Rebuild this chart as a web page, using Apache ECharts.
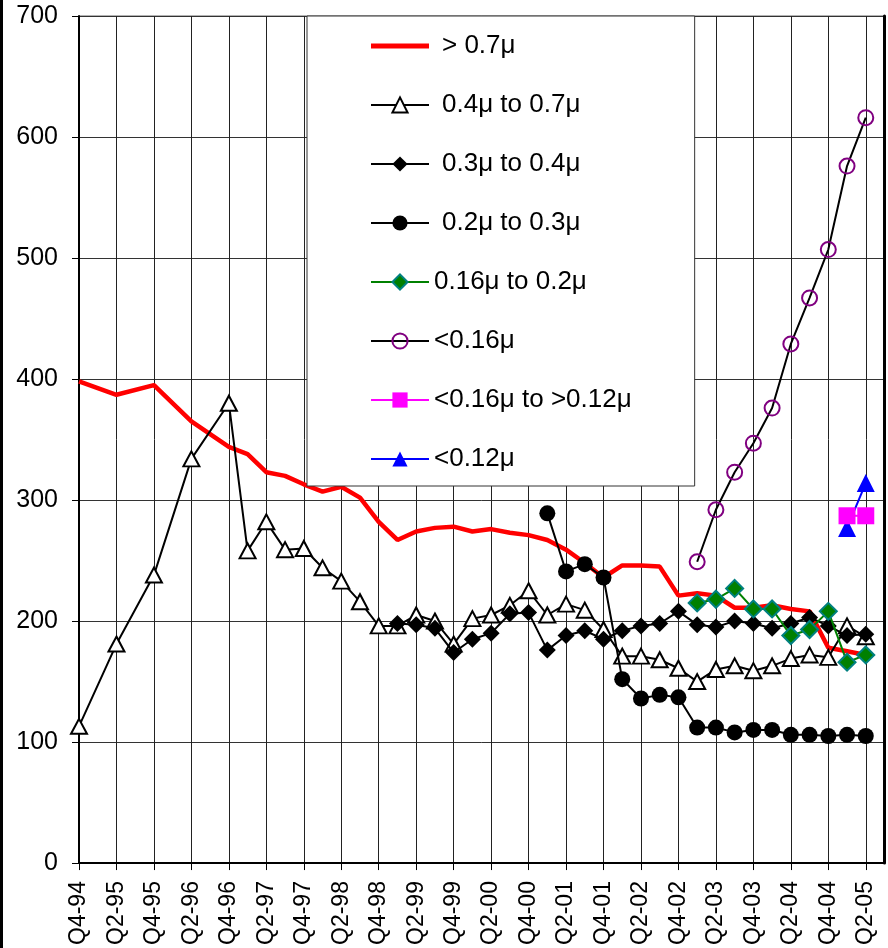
<!DOCTYPE html>
<html>
<head>
<meta charset="utf-8">
<script src="https://cdn.jsdelivr.net/npm/echarts@6/dist/echarts.min.js"></script>
<style>html,body{margin:0;padding:0;background:#fff}#c{width:888px;height:948px}</style>
</head>
<body>
<div id="c"></div>
<script>
var categories = ['Q4-94','Q1-95','Q2-95','Q3-95','Q4-95','Q1-96','Q2-96','Q3-96','Q4-96',
  'Q1-97','Q2-97','Q3-97','Q4-97','Q1-98','Q2-98','Q3-98','Q4-98',
  'Q1-99','Q2-99','Q3-99','Q4-99','Q1-00','Q2-00','Q3-00','Q4-00',
  'Q1-01','Q2-01','Q3-01','Q4-01','Q1-02','Q2-02','Q3-02','Q4-02',
  'Q1-03','Q2-03','Q3-03','Q4-03','Q1-04','Q2-04','Q3-04','Q4-04',
  'Q1-05','Q2-05','Q3-05'];
var seriesNames = ['> 0.7\u03bc','0.4\u03bc to 0.7\u03bc','0.3\u03bc to 0.4\u03bc','0.2\u03bc to 0.3\u03bc',
  '0.16\u03bc to 0.2\u03bc','<0.16\u03bc','<0.16\u03bc to >0.12\u03bc','<0.12\u03bc'];
var yTicks = [0,100,200,300,400,500,600,700];
var _ = null;
var over07 = [398,_,387,_,395,_,365,_,344,338,323,320,313,307,311,302,282,267,274,277,278,274,276,273,271,267,259,248,236,246,246,245,221,223,221,211,211,213,210,208,178,175,172,_];
var r04to07 = [113,_,181,_,238,_,334,_,380,258,282,259,260,244,233,216,196,196,205,200,181,202,205,213,225,205,214,209,193,171,171,168,161,150,160,163,159,163,169,172,170,196,187,_];
var r03to04 = [_,_,_,_,_,_,_,_,_,_,_,_,_,_,_,_,_,198,197,194,174,185,190,206,207,176,188,192,185,192,196,198,208,197,195,200,198,194,198,203,196,188,189,_];
var r02to03 = [_,_,_,_,_,_,_,_,_,_,_,_,_,_,_,_,_,_,_,_,_,_,_,_,_,289,241,247,236,152,136,139,137,112,112,108,110,110,106,106,105,106,105,_];
var r016to02 = [_,_,_,_,_,_,_,_,_,_,_,_,_,_,_,_,_,_,_,_,_,_,_,_,_,_,_,_,_,_,_,_,_,215,218,227,210,210,188,193,208,166,172,_];
var under016 = [_,_,_,_,_,_,_,_,_,_,_,_,_,_,_,_,_,_,_,_,_,_,_,_,_,_,_,_,_,_,_,_,_,249,292,323,347,376,429,467,507,576,616,_];
var r016to012 = [_,_,_,_,_,_,_,_,_,_,_,_,_,_,_,_,_,_,_,_,_,_,_,_,_,_,_,_,_,_,_,_,_,_,_,_,_,_,_,_,_,287,287,_];
var under012 = [_,_,_,_,_,_,_,_,_,_,_,_,_,_,_,_,_,_,_,_,_,_,_,_,_,_,_,_,_,_,_,_,_,_,_,_,_,_,_,_,_,277,314,_];

var FONT = "'Liberation Sans', Arial, sans-serif";
var chart = echarts.init(document.getElementById('c'), null, {renderer:'canvas'});
function ser(name, data, o) {
  return Object.assign({type:'line', name:name, data:data, connectNulls:true, animation:false}, o);
}
chart.setOption({
  animation:false,
  backgroundColor:'#fff',
  textStyle:{fontFamily:FONT},
  graphic:[{type:'rect', left:0, top:0, shape:{width:3, height:948}, style:{fill:'#000'}, silent:true}],
  grid:{left:79, top:16, right:3.5, bottom:84.5, show:true, borderColor:'#666', borderWidth:1, backgroundColor:'transparent'},
  legend:{
    orient:'vertical', left:307, top:16,
    padding:[17,63,14,63],
    itemWidth:58, itemHeight:19, itemGap:33,
    backgroundColor:'#fff', borderColor:'#333', borderWidth:1,
    textStyle:{fontSize:26, lineHeight:26, color:'#000', fontFamily:FONT},
    data:[
      {name:seriesNames[0], icon:'path://M0,0H58V5H0Z', textStyle:{padding:[0,0,0,8]}},
      {name:seriesNames[1], textStyle:{padding:[0,0,0,8]}},
      {name:seriesNames[2], textStyle:{padding:[0,0,0,8]}},
      {name:seriesNames[3], textStyle:{padding:[0,0,0,8]}},
      {name:seriesNames[4]},
      {name:seriesNames[5]},
      {name:seriesNames[6]},
      {name:seriesNames[7]}
    ]
  },
  xAxis:{
    type:'category', data:categories, boundaryGap:false,
    axisLine:{lineStyle:{color:'#000', width:2}},
    axisTick:{show:true, interval:1, length:7, lineStyle:{color:'#000', width:1}},
    axisLabel:{interval:1, rotate:90, margin:18, fontSize:23, color:'#000', fontFamily:FONT},
    splitLine:{show:true, interval:1, lineStyle:{color:'#222', width:1}}
  },
  yAxis:[{
    type:'value', min:yTicks[0], max:yTicks[yTicks.length-1], interval:100,
    axisLine:{show:true, lineStyle:{color:'#000', width:2}},
    axisTick:{show:true, length:7, lineStyle:{color:'#000', width:1}},
    axisLabel:{margin:21, fontSize:25, color:'#000', fontFamily:FONT},
    splitLine:{show:true, lineStyle:{color:'#333', width:1}}
  },{
    type:'value', position:'right', min:0, max:700,
    axisLine:{show:true, lineStyle:{color:'#000', width:3}},
    axisTick:{show:false}, axisLabel:{show:false}, splitLine:{show:false}
  }],
  series:[
    ser(seriesNames[0], over07, {symbol:'none', itemStyle:{color:'#ff0000'}, lineStyle:{color:'#ff0000', width:4.5}, z:2}),
    ser(seriesNames[1], r04to07, {symbol:'triangle', symbolSize:[16,15], showAllSymbol:true,
      itemStyle:{color:'#fff', borderColor:'#000', borderWidth:2}, lineStyle:{color:'#000', width:2}, z:3}),
    ser(seriesNames[2], r03to04, {symbol:'diamond', symbolSize:17, showAllSymbol:true,
      itemStyle:{color:'#000'}, lineStyle:{color:'#000', width:2}, z:4}),
    ser(seriesNames[3], r02to03, {symbol:'circle', symbolSize:16, showAllSymbol:true,
      itemStyle:{color:'#000'}, lineStyle:{color:'#000', width:2}, z:5}),
    ser(seriesNames[4], r016to02, {symbol:'diamond', symbolSize:17, showAllSymbol:true,
      itemStyle:{color:'#008000', borderColor:'#008080', borderWidth:2}, lineStyle:{color:'#008000', width:2}, z:6}),
    ser(seriesNames[5], under016, {symbol:'circle', symbolSize:15, showAllSymbol:true,
      itemStyle:{color:'rgba(255,255,255,0)', borderColor:'#800080', borderWidth:2}, lineStyle:{color:'#000', width:2}, z:7}),
    ser(seriesNames[6], r016to012, {symbol:'rect', symbolSize:17, showAllSymbol:true,
      itemStyle:{color:'#ff00ff'}, lineStyle:{color:'#ff00ff', width:2}, z:9}),
    ser(seriesNames[7], under012, {symbol:'triangle', symbolSize:18, showAllSymbol:true,
      itemStyle:{color:'#0000ff'}, lineStyle:{color:'#0000ff', width:2}, z:8})
  ]
});
</script>
</body>
</html>
